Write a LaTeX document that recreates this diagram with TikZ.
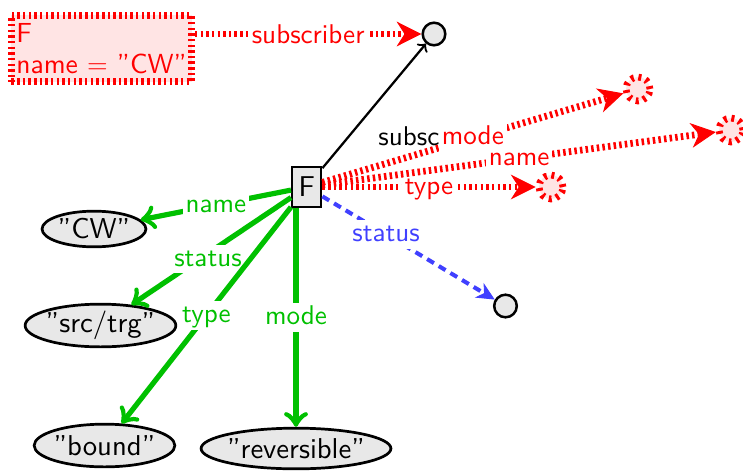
\documentclass[tikz,border=0pt]{standalone}
\usepackage{fontspec}
\setsansfont{lmsans10-regular.otf}
\usetikzlibrary{arrows.meta,shapes.geometric,calc}
\definecolor{eggreen}{RGB}{0,192,0}
\definecolor{egblue}{RGB}{64,64,255}
\definecolor{redfill}{RGB}{255,228,228}
\definecolor{greyfill}{RGB}{232,232,232}
\begin{document}
\begin{tikzpicture}[x=0.4425pt,y=-0.4425pt,
  every node/.style={font=\sffamily\fontsize{12pt}{14pt}\selectfont},
  nodetext/.style={font=\sffamily\fontsize{12.7pt}{15pt}\selectfont},
  lbl/.style={fill=white, inner sep=1.2pt, text height=8.3pt, text depth=2pt},
  redline/.style={draw=red, line width=3pt, dash pattern=on 1.1pt off 1.4pt},
  valnode/.style={ellipse, draw, line width=1.2pt, fill=greyfill, inner xsep=-6pt, inner ysep=0pt, nodetext},
  dot/.style={circle, draw, line width=1.1pt, fill=greyfill, minimum size=10pt, inner sep=0pt},
  reddot/.style={circle, draw=red, line width=3pt, dash pattern=on 1.3pt off 2.1pt, fill=redfill, minimum size=10.6pt, inner sep=0pt},
  objbox/.style={rectangle, draw, line width=1.1pt, fill=greyfill, minimum width=12.8pt, minimum height=17.6pt, inner sep=0pt, nodetext},
  gedge/.style={draw=eggreen, line width=2.3pt, -{Classical TikZ Rightarrow[length=6.5pt,width=10.5pt]}},
  redge/.style={redline, -{Stealth[length=11pt,width=11pt,inset=3.5pt,line width=0.4pt]}},
  bedge/.style={draw=egblue, line width=1.8pt, dash pattern=on 3.5pt off 2.5pt, -{Stealth[length=8pt,width=7.5pt,inset=2.5pt,line width=0.4pt]}},
  blkedge/.style={draw=black, line width=1pt, -{Classical TikZ Rightarrow[length=3pt,width=6pt]}}
]
\useasboundingbox (0,0) rectangle (743,470);

% object and its attribute values
\node[objbox] (F) at (306.7,187) {F};
\node[valnode, minimum width=46pt, minimum height=15.8pt] (cw) at (94,229) {''CW''};
\node[valnode, minimum width=66.7pt, minimum height=18.9pt] (st) at (100.5,325.5) {''src/trg''};
\node[valnode, minimum width=62.3pt, minimum height=18.9pt] (bd) at (104.5,445.5) {''bound''};
\node[valnode, minimum width=84pt, minimum height=18pt] (rev) at (296,448.5) {''reversible''};

% subscriber side
\node[rectangle, redline, fill=redfill, text=red, align=left,
      font=\sffamily\fontsize{12.2pt}{13.7pt}\selectfont,
      minimum width=79.7pt, minimum height=29.3pt, inner sep=0pt] (rectF) at (101.5,48.5)
      {F\\name $=$ ''CW''};
\node[dot] (c1) at (434,34) {};
\node[dot] (bc) at (505.5,306) {};
\node[reddot] (rm) at (638,89) {};
\node[reddot] (rn) at (731,130) {};
\node[reddot] (rt) at (551,187) {};

% connectors
\draw[redge] (c1 -| rectF.east) -- node[lbl, text=red, yshift=-1pt] {subscriber} (c1);
\draw[blkedge] (F) -- (c1);
\node[anchor=base west, inner sep=0pt] (subsclbl) at (378,145) {subsc};

\draw[redge] (F) -- node[lbl, text=red] {type} (rt);
\draw[redge] (F) -- node[lbl, text=red] {name} (rn);
\draw[redge] (F) -- node[lbl, text=red] {mode} (rm);

\draw[bedge] (F) -- node[pos=0.37, lbl, text=egblue] {status} (bc);

\draw[gedge] (F) -- node[lbl, text=eggreen] {name} (cw);
\draw[gedge] (F) -- node[pos=0.52, yshift=-2.5pt, lbl, text=eggreen] {status} (st);
\draw[gedge] (F) -- node[lbl, text=eggreen] {type} (bd);
\draw[gedge] (rev.north |- F.south) -- node[lbl, text=eggreen] {mode} (rev);
\end{tikzpicture}
\end{document}
